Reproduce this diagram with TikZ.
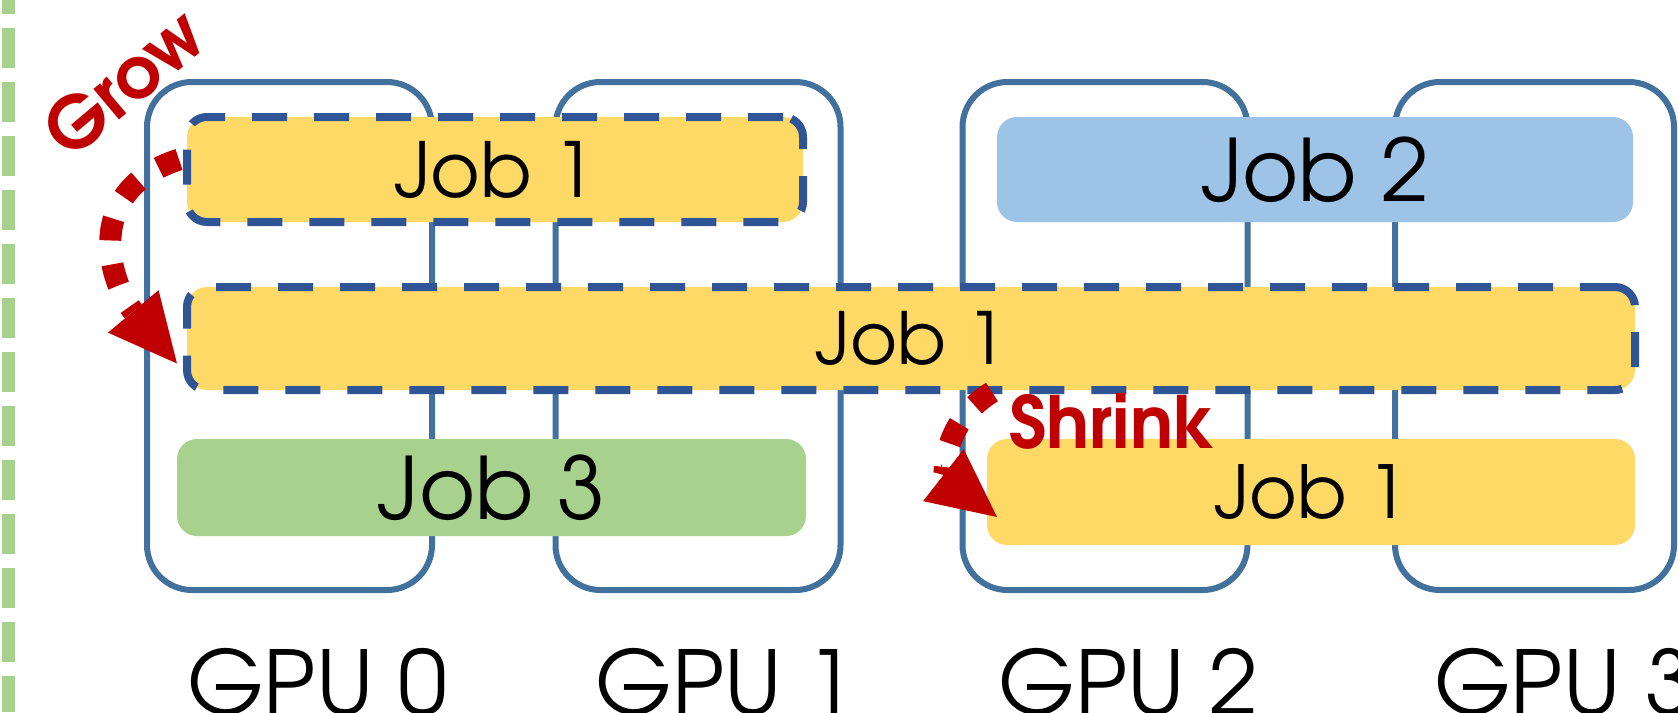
\documentclass[tikz,border=0pt]{standalone}
\usepackage{fontspec}
\setmainfont{TeX Gyre Adventor}
\usetikzlibrary{arrows.meta,calc}

\definecolor{gpublue}{HTML}{41719C}
\definecolor{dashblue}{HTML}{2F5597}
\definecolor{jobyellow}{HTML}{FFD966}
\definecolor{jobblue}{HTML}{9DC3E6}
\definecolor{jobgreen}{HTML}{A9D18E}
\definecolor{movered}{HTML}{C00000}

\newcommand{\sizedfont}[1]{\fontsize{#1}{#1}\selectfont}

\begin{document}
\begin{tikzpicture}[x=1pt, y=1pt,
  divider/.style={draw=jobgreen, line width=13pt, dash pattern=on 40pt off 14pt, dash phase=26pt},
  gpubox/.style={draw=gpublue, line width=6pt, rounded corners=45pt, minimum width=285pt, minimum height=508pt, inner sep=0pt, outer sep=0pt},
  gpulabel/.style={anchor=base west, inner sep=0pt, font=\sizedfont{88}},
  jobbox/.style={rounded corners=20pt, inner sep=0pt, outer sep=0pt, minimum height=105pt, text=black},
  moving/.style={draw=dashblue, line width=8pt, dash pattern=on 35pt off 27pt},
  movelabel/.style={text=movered, inner sep=0pt, font=\bfseries\sizedfont{72}},
  movearrow/.style={draw=movered, line width=22pt, dash pattern=on 22pt off 24pt,
    -{Triangle[length=68pt, width=66pt, line width=0pt]}}]
  % page frame
  \useasboundingbox (0,0) rectangle (1678,-712);
  \fill[white] (0,0) rectangle (1678,-712);

  % dashed divider on the left
  \draw[divider] (8.5,0) -- (8.5,-712);

  % the four GPUs
  \node[gpubox] (gpu0) at (289.5,-336) {};
  \node[gpubox] (gpu1) at (698,-336) {};
  \node[gpubox] (gpu2) at (1105,-336) {};
  \node[gpubox, minimum width=279pt] (gpu3) at (1534.5,-336) {};
  \node[gpulabel] (lab0) at ([shift={(40,-124)}]gpu0.south west) {GPU 0};
  \node[gpulabel] (lab1) at ([shift={(40,-124)}]gpu1.south west) {GPU 1};
  \node[gpulabel] (lab2) at ([shift={(36,-124)}]gpu2.south west) {GPU 2};
  \node[gpulabel] (lab3) at ([shift={(39,-124)}]gpu3.south west) {GPU 3};

  % jobs
  \node[jobbox, moving, fill=jobyellow, minimum width=616pt, font=\sizedfont{76}] (jobA) at (495,-169.5) {Job 1};
  \node[jobbox, fill=jobblue, minimum width=636pt, font=\sizedfont{86}] (jobC) at (1315,-169.5) {Job 2};
  \node[jobbox, moving, fill=jobyellow, minimum width=1448pt, minimum height=103pt, font=\sizedfont{72}] (jobB) at (911,-338.5) {Job 1};
  \node[jobbox, fill=jobgreen, minimum width=629pt, minimum height=97pt, font=\sizedfont{86}] (jobD) at (491.5,-487.5) {Job 3};
  \node[jobbox, fill=jobyellow, minimum width=648pt, minimum height=106pt, font=\sizedfont{73}] (jobE) at (1311,-492) {Job 1};

  % grow and shrink moves
  \coordinate (growFrom) at ($(jobA.west)+(-8,10)$);
  \coordinate (growTo) at ($(jobB.west)+(-10,-25)$);
  \draw[movearrow] (growFrom) to[out=198, in=130, looseness=1.3] (growTo);
  \coordinate (shrinkFrom) at ($(jobB.south)+(81,-2)$);
  \coordinate (shrinkTo) at ($(jobE.west)+(10,-25)$);
  \draw[movearrow] (shrinkFrom) to[out=212, in=142, looseness=1.3] (shrinkTo);

  \node[movelabel, rotate=40] (grow) at (124,-82) {Grow};
  \node[movelabel, anchor=base west] (shrink) at (1009,-448) {Shrink};
\end{tikzpicture}
\end{document}
